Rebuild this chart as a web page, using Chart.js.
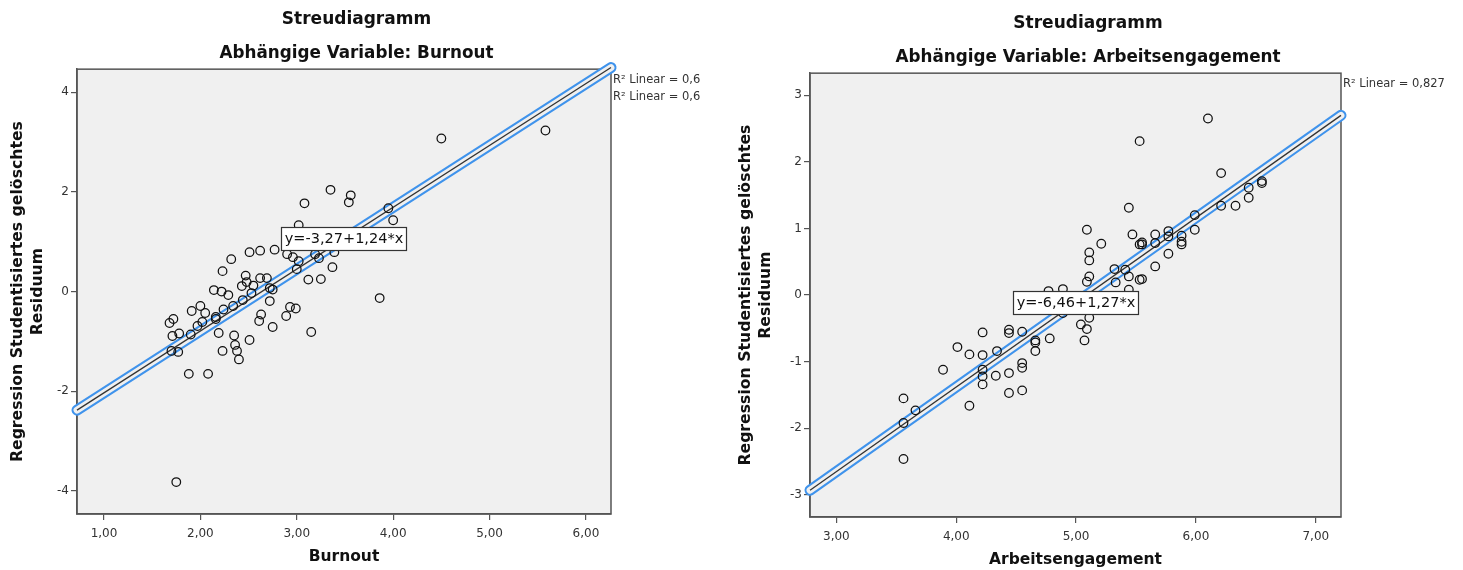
<!DOCTYPE html>
<html lang="de">
<head>
    <meta charset="UTF-8">
    <title>Streudiagramm</title>
    <script src="https://cdn.jsdelivr.net/npm/chart.js"></script>
    <style>
        body {
            margin: 0;
            background-color: white;
            width: 1463px;
            height: 570px;
            position: relative;
            overflow: hidden;
        }
        .plot {
            position: absolute;
            top: 0;
            height: 570px;
        }
        #burnoutBox { left: 0; width: 713px; }
        #engagementBox { left: 726px; width: 724px; }
    </style>
</head>
<body>

<div class="plot" id="burnoutBox"><canvas id="burnoutChart" width="713" height="570"></canvas></div>
<div class="plot" id="engagementBox"><canvas id="engagementChart" width="724" height="570"></canvas></div>

<script>
    // Burnout: predictor value vs studentized deleted residual
    const burnoutX = [2.62, 2.77, 2.51, 2.32, 2.23, 2.47, 2.62, 2.69, 2.48, 2.43, 2.55, 2.14, 2.22, 2.29, 2.75, 2.72,
        2.00, 1.91, 2.05, 2.24, 2.34, 2.63, 2.61, 2.75, 2.89, 2.93, 2.99, 3.15, 3.86, 1.68, 1.72, 1.71,
        1.78, 1.70, 1.77, 1.97, 2.02, 2.16, 2.19, 1.90, 2.35, 2.51, 2.36, 2.23, 2.38, 2.40, 1.88, 2.08,
        1.75, 3.12, 3.25, 3.37, 3.39, 2.96, 3.02, 3.23, 3.08, 3.35, 3.56, 3.54, 3.02, 3.95, 4.00, 2.90,
        3.19, 4.50, 5.58, 2.53, 2.44, 2.16, 3.00, 2.72];
    const burnoutResid = [0.82, 0.84, 0.79, 0.65, 0.41, 0.32, 0.27, 0.27, 0.19, 0.11, 0.12, 0.03, 0.00, -0.07, 0.04, -0.19,
        -0.29, -0.39, -0.43, -0.36, -0.29, -0.46, -0.59, -0.71, -0.49, -0.31, -0.34, -0.81, -0.13, -0.63, -0.55, -0.89,
        -0.84, -1.19, -1.21, -0.69, -0.61, -0.55, -0.83, -0.86, -0.88, -0.97, -1.07, -1.19, -1.19, -1.36, -1.65, -1.65,
        -3.82, 0.24, 0.25, 0.49, 0.79, 0.69, 0.61, 0.67, 1.77, 2.04, 1.93, 1.79, 1.33, 1.67, 1.43, 0.75,
        0.75, 3.07, 3.23, -0.03, -0.17, -0.51, 0.45, 0.07];
    const burnoutFit = [-3.27, 1.24];          // intercept, slope
    const burnoutR2 = ['R² Linear = 0,6', 'R² Linear = 0,6'];
    const burnoutXRange = [0.72, 6.26];
    const burnoutYRange = [-4.46, 4.46];

    // Arbeitsengagement
    const engagementX = [3.56, 3.56, 3.66, 3.56, 3.89, 4.01, 4.11, 4.11, 4.22, 4.22, 4.22, 4.22, 4.22, 4.34, 4.33, 4.44,
        4.44, 4.44, 4.44, 4.55, 4.55, 4.55, 4.55, 4.66, 4.66, 4.66, 4.78, 4.77, 4.89, 4.89, 5.04, 5.07,
        5.09, 5.11, 5.09, 5.11, 5.11, 5.11, 5.32, 5.33, 5.44, 5.44, 5.53, 5.41, 5.53, 5.44, 5.09, 5.47,
        5.21, 5.53, 6.10, 6.21, 6.44, 6.55, 6.55, 6.44, 6.21, 6.33, 5.99, 5.99, 5.66, 5.77, 5.88, 5.88,
        5.88, 5.55, 5.55, 5.66, 5.77, 5.77, 5.66, 5.55];
    const engagementResid = [-1.55, -1.92, -1.73, -2.46, -1.12, -0.78, -0.89, -1.66, -0.56, -0.90, -1.12, -1.22, -1.34, -0.84, -1.21, -0.52,
        -0.57, -1.17, -1.47, -0.55, -1.02, -1.09, -1.43, -0.68, -0.71, -0.84, -0.65, 0.06, 0.09, -0.27, -0.44, -0.68,
        -0.51, -0.34, 0.20, 0.28, 0.52, 0.64, 0.39, 0.19, 0.28, 0.08, 0.23, 0.38, 2.31, 1.31, 0.98, 0.91,
        0.77, 0.76, 2.65, 1.83, 1.61, 1.68, 1.71, 1.46, 1.34, 1.34, 1.20, 0.98, 0.91, 0.96, 0.89, 0.80,
        0.76, 0.79, 0.76, 0.78, 0.88, 0.62, 0.43, 0.24];
    const engagementFit = [-6.46, 1.27];
    const engagementR2 = ['R² Linear = 0,827'];
    const engagementXRange = [2.78, 7.21];
    const engagementYRange = [-3.33, 3.33];

    const FONT = "'DejaVu Sans', sans-serif";
    const PLOT_BG = '#f0f0f0';
    const AXIS_COLOR = '#555555';

    function toPoints(xs, ys) {
        return xs.map((x, i) => ({x: x, y: ys[i]}));
    }

    function comma(v, digits) {
        return v.toFixed(digits).replace('.', ',');
    }

    // background, frame, equation box and R² text
    const plotFrame = {
        id: 'plotFrame',
        beforeDraw(chart) {
            const a = chart.chartArea;
            const ctx = chart.ctx;
            ctx.save();
            ctx.fillStyle = PLOT_BG;
            ctx.fillRect(a.left, a.top, a.right - a.left, a.bottom - a.top);
            ctx.restore();
        },
        beforeDatasetsDraw(chart) {
            const a = chart.chartArea;
            const ctx = chart.ctx;
            ctx.save();
            ctx.strokeStyle = AXIS_COLOR;
            ctx.lineWidth = 1.5;
            ctx.strokeRect(a.left, a.top, a.right - a.left, a.bottom - a.top);
            ctx.restore();
        },
        afterDatasetsDraw(chart, args, opts) {
            const ctx = chart.ctx;
            const a = chart.chartArea;
            const xs = chart.scales.x;
            const ys = chart.scales.y;
            ctx.save();

            // equation label sits on the middle of the fit line
            const xm = (xs.min + xs.max) / 2;
            const ym = opts.fit[0] + opts.fit[1] * xm;
            const px = xs.getPixelForValue(xm);
            const py = ys.getPixelForValue(ym);
            const text = 'y=' + comma(opts.fit[0], 2) + '+' + comma(opts.fit[1], 2) + '*x';
            ctx.font = '14.5px ' + FONT;
            const w = Math.round(ctx.measureText(text).width + 6);
            const h = 23;
            const bx = Math.round(px - w / 2);
            const by = Math.round(py - h / 2);
            ctx.fillStyle = 'white';
            ctx.fillRect(bx, by, w, h);
            ctx.strokeStyle = '#333';
            ctx.lineWidth = 1.2;
            ctx.strokeRect(bx + 0.5, by + 0.5, w, h);
            ctx.fillStyle = '#111';
            ctx.textAlign = 'center';
            ctx.textBaseline = 'middle';
            ctx.fillText(text, bx + w / 2 + 0.5, by + h / 2 + 1);

            ctx.font = '11.5px ' + FONT;
            ctx.fillStyle = '#333';
            ctx.textAlign = 'left';
            opts.r2.forEach((t, i) => {
                ctx.fillText(t, a.right + 2, a.top + 11 + i * 17);
            });
            ctx.restore();
        }
    };

    function makeChart(id, o) {
        const lineEnds = o.xRange.map(x => ({x: x, y: o.fit[0] + o.fit[1] * x}));
        const lineBase = {type: 'line', data: lineEnds, pointRadius: 0, clip: false, fill: false};

        return new Chart(document.getElementById(id), {
            type: 'scatter',
            data: {
                datasets: [
                    Object.assign({}, lineBase, {borderColor: '#3f93ec', borderWidth: 11, borderCapStyle: 'round', order: 3}),
                    Object.assign({}, lineBase, {borderColor: PLOT_BG, borderWidth: 6.8, borderCapStyle: 'round', order: 2}),
                    Object.assign({}, lineBase, {borderColor: '#333', borderWidth: 1.3, order: 1}),
                    {
                        data: toPoints(o.xs, o.ys),
                        pointRadius: 4.3,
                        borderWidth: 1.25,
                        borderColor: '#111',
                        backgroundColor: 'rgba(0,0,0,0)',
                        order: 0
                    }
                ]
            },
            options: {
                responsive: false,
                animation: false,
                events: [],
                layout: {padding: 0},
                plugins: {
                    legend: {display: false},
                    tooltip: {enabled: false},
                    title: {
                        display: true,
                        text: 'Streudiagramm',
                        color: '#111',
                        font: {family: FONT, size: 17, weight: 'bold', lineHeight: 1.2},
                        padding: {top: o.titleTop - 0.6, bottom: 14.2}
                    },
                    subtitle: {
                        display: true,
                        text: o.subtitle,
                        color: '#111',
                        font: {family: FONT, size: 16.8, weight: 'bold', lineHeight: 1.2},
                        padding: {top: 0, bottom: 5}
                    },
                    plotFrame: {fit: o.fit, r2: o.r2}
                },
                scales: {
                    x: {
                        type: 'linear',
                        min: o.xRange[0],
                        max: o.xRange[1],
                        afterFit(s) { s.height = o.xAxisHeight; },
                        ticks: {
                            stepSize: 1,
                            includeBounds: false,
                            maxRotation: 0,
                            padding: 7,
                            color: '#333',
                            font: {family: FONT, size: 12},
                            callback: v => comma(v, 2)
                        },
                        grid: {drawOnChartArea: false, tickLength: 6, color: AXIS_COLOR, lineWidth: 1.2},
                        border: {color: AXIS_COLOR, width: 1.5},
                        title: {
                            display: true,
                            text: o.xTitle,
                            color: '#111',
                            font: {family: FONT, size: 15.5, weight: 'bold'},
                            padding: {top: 0, bottom: o.xTitlePad}
                        }
                    },
                    y: {
                        type: 'linear',
                        position: 'left',
                        min: o.yRange[0],
                        max: o.yRange[1],
                        afterFit(s) { s.width = o.yAxisWidth; },
                        ticks: {
                            stepSize: o.yStep,
                            includeBounds: false,
                            padding: 2,
                            color: '#333',
                            font: {family: FONT, size: 12},
                            callback: v => String(Math.round(v))
                        },
                        grid: {drawOnChartArea: false, tickLength: 6, color: AXIS_COLOR, lineWidth: 1.2},
                        border: {color: AXIS_COLOR, width: 1.5},
                        title: {
                            display: true,
                            text: ['Regression Studentisiertes gelöschtes', 'Residuum'],
                            color: '#111',
                            font: {family: FONT, size: 15.7, weight: 'bold', lineHeight: 1.25},
                            padding: {top: o.yTitlePad, bottom: 0}
                        }
                    },
                    // empty strip on the right that holds the R² text
                    side: {
                        type: 'linear',
                        position: 'right',
                        afterFit(s) { s.width = o.rightGap; },
                        ticks: {display: false},
                        grid: {display: false},
                        border: {display: false}
                    }
                }
            },
            plugins: [plotFrame]
        });
    }

    makeChart('burnoutChart', {
        xs: burnoutX, ys: burnoutResid, fit: burnoutFit, r2: burnoutR2,
        xRange: burnoutXRange, yRange: burnoutYRange, yStep: 2,
        subtitle: 'Abhängige Variable: Burnout', xTitle: 'Burnout',
        titleTop: 10, xAxisHeight: 56, xTitlePad: 3.5, yAxisWidth: 77, yTitlePad: 8, rightGap: 102
    });

    makeChart('engagementChart', {
        xs: engagementX, ys: engagementResid, fit: engagementFit, r2: engagementR2,
        xRange: engagementXRange, yRange: engagementYRange, yStep: 1,
        subtitle: 'Abhängige Variable: Arbeitsengagement', xTitle: 'Arbeitsengagement',
        titleTop: 14, xAxisHeight: 53, xTitlePad: 0.5, yAxisWidth: 84, yTitlePad: 10, rightGap: 109
    });
</script>

</body>
</html>
